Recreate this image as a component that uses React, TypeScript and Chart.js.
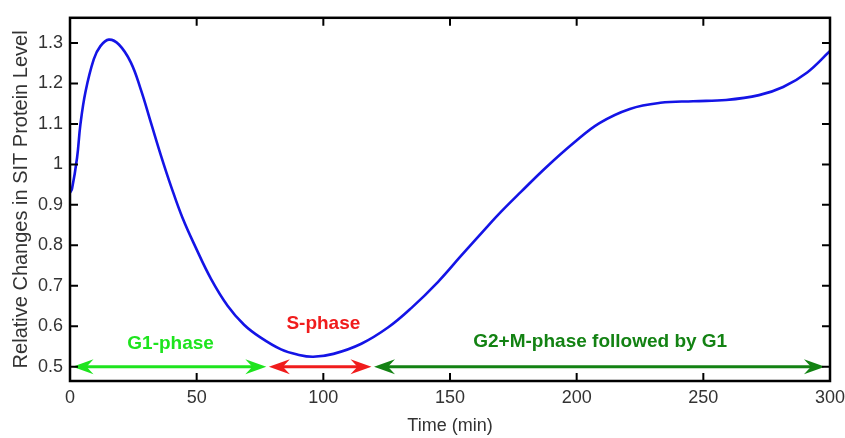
import React, { useEffect, useRef } from "react";
import { Chart, registerables } from "chart.js";

Chart.register(...registerables);

// Curve samples (time in min, relative SIT protein level)
const TIME = [0, 0.8, 2.8, 4.1, 6.1, 9.4, 12, 15.3, 19.3, 24, 28, 32, 36, 40, 44.4, 49.6, 55.6, 62.2, 68.7, 75.3, 83.3, 90, 96, 104, 115, 125.5, 134.7, 145.3, 154.5, 165, 170, 178, 188, 199, 209, 221, 233, 246, 259, 272, 281.5, 291, 300];
const LEVEL = [0.93, 0.94, 1.017, 1.098, 1.179, 1.26, 1.292, 1.308, 1.296, 1.252, 1.184, 1.102, 1.02, 0.944, 0.868, 0.795, 0.718, 0.651, 0.604, 0.572, 0.543, 0.53, 0.525, 0.532, 0.557, 0.597, 0.645, 0.71, 0.775, 0.848, 0.882, 0.932, 0.993, 1.054, 1.102, 1.137, 1.152, 1.156, 1.159, 1.171, 1.191, 1.227, 1.28];

const X_TICKS = [0, 50, 100, 150, 200, 250, 300];
const Y_TICKS = [0.5, 0.6, 0.7, 0.8, 0.9, 1, 1.1, 1.2, 1.3];

// Cell-cycle phase annotations
const PHASE_NAMES = ["G1-phase", "S-phase", "G2+M-phase followed by G1"];
const PHASE_START = [1, 78.5, 120];
const PHASE_END = [77.5, 119, 298];
const PHASE_LABEL_X = [39.7, 100, 209.3];
const PHASE_LABEL_Y = [0.557, 0.607, 0.561];
const PHASE_COLORS = ["#1ee41e", "#f01c1c", "#138213"];
const ARROW_LEVEL = 0.5;

const FONT = "'Liberation Sans', Arial, sans-serif";

function drawHead(ctx: CanvasRenderingContext2D, tipX: number, y: number, dir: number) {
  const len = 21;
  const half = 7.5;
  const notch = 14;
  ctx.beginPath();
  ctx.moveTo(tipX, y);
  ctx.lineTo(tipX - dir * len, y - half);
  ctx.lineTo(tipX - dir * notch, y);
  ctx.lineTo(tipX - dir * len, y + half);
  ctx.closePath();
  ctx.fill();
}

const framePlugin = {
  id: "frameAndPhases",
  afterDraw(chart: any) {
    const { ctx, chartArea, scales } = chart;
    const xs = scales.x;
    const ys = scales.y;
    const { left, right, top, bottom } = chartArea;
    ctx.save();
    // phase arrows
    const yPix = ys.getPixelForValue(ARROW_LEVEL);
    PHASE_NAMES.forEach((name, i) => {
      const x0 = xs.getPixelForValue(PHASE_START[i]);
      const x1 = xs.getPixelForValue(PHASE_END[i]);
      ctx.strokeStyle = PHASE_COLORS[i];
      ctx.fillStyle = PHASE_COLORS[i];
      ctx.lineWidth = 3;
      ctx.beginPath();
      ctx.moveTo(x0 + 10, yPix);
      ctx.lineTo(x1 - 10, yPix);
      ctx.stroke();
      drawHead(ctx, x0, yPix, -1);
      drawHead(ctx, x1, yPix, 1);
      ctx.font = `bold 19px ${FONT}`;
      ctx.textAlign = "center";
      ctx.textBaseline = "middle";
      ctx.fillText(name, xs.getPixelForValue(PHASE_LABEL_X[i]), ys.getPixelForValue(PHASE_LABEL_Y[i]));
    });
    // inward ticks
    ctx.strokeStyle = "#000";
    ctx.lineWidth = 2;
    const tl = 8;
    ctx.beginPath();
    X_TICKS.forEach((v) => {
      const px = xs.getPixelForValue(v);
      ctx.moveTo(px, bottom);
      ctx.lineTo(px, bottom - tl);
      ctx.moveTo(px, top);
      ctx.lineTo(px, top + tl);
    });
    Y_TICKS.forEach((v) => {
      const py = ys.getPixelForValue(v);
      ctx.moveTo(left, py);
      ctx.lineTo(left + tl, py);
      ctx.moveTo(right, py);
      ctx.lineTo(right - tl, py);
    });
    ctx.stroke();
    // box
    ctx.lineWidth = 2.5;
    ctx.strokeRect(left, top, right - left, bottom - top);
    ctx.restore();
  },
};

export default function App() {
  const ref = useRef<HTMLCanvasElement | null>(null);
  useEffect(() => {
    if (!ref.current) return;
    const chart = new Chart(ref.current, {
      type: "line",
      data: {
        datasets: [
          {
            data: TIME.map((t, i) => ({ x: t, y: LEVEL[i] })),
            borderColor: "#1414e6",
            borderWidth: 2.6,
            pointRadius: 0,
            fill: false,
            tension: 0.4,
          },
        ],
      },
      options: {
        animation: false,
        responsive: false,
        events: [],
        layout: { padding: { left: 8, top: 11, right: 30, bottom: 0 } },
        plugins: { legend: { display: false }, tooltip: { enabled: false } },
        scales: {
          x: {
            type: "linear",
            min: 0,
            max: 300,
            grid: { display: false, drawTicks: false },
            border: { display: false },
            afterBuildTicks: (s: any) => {
              s.ticks = X_TICKS.map((v) => ({ value: v }));
            },
            afterFit: (s: any) => {
              s.height = 57;
            },
            ticks: {
              padding: 6,
              maxRotation: 0,
              autoSkip: false,
              color: "#333",
              font: { family: FONT, size: 18 },
              callback: (v: any) => String(v),
            },
            title: {
              display: true,
              text: "Time (min)",
              color: "#333",
              font: { family: FONT, size: 18 },
              padding: { top: 0, bottom: 1 },
            },
          },
          y: {
            type: "linear",
            min: 0.465,
            max: 1.362,
            grid: { display: false, drawTicks: false },
            border: { display: false },
            afterBuildTicks: (s: any) => {
              s.ticks = Y_TICKS.map((v) => ({ value: v }));
            },
            afterFit: (s: any) => {
              s.width = 62;
            },
            ticks: {
              padding: 7,
              autoSkip: false,
              color: "#333",
              font: { family: FONT, size: 18 },
              callback: (v: any) => String(Math.round(v * 10) / 10),
            },
            title: {
              display: true,
              text: "Relative Changes in SIT Protein Level",
              color: "#333",
              font: { family: FONT, size: 20 },
              padding: { top: 1, bottom: 0 },
            },
          },
        },
      },
      plugins: [framePlugin],
    });
    return () => chart.destroy();
  }, []);
  return (
    <div style={{ position: "absolute", left: 0, top: 0, width: 845, height: 438, overflow: "hidden", background: "#fff" }}>
      <canvas ref={ref} width={860} height={438} style={{ width: 860, height: 438, display: "block" }} />
    </div>
  );
}
